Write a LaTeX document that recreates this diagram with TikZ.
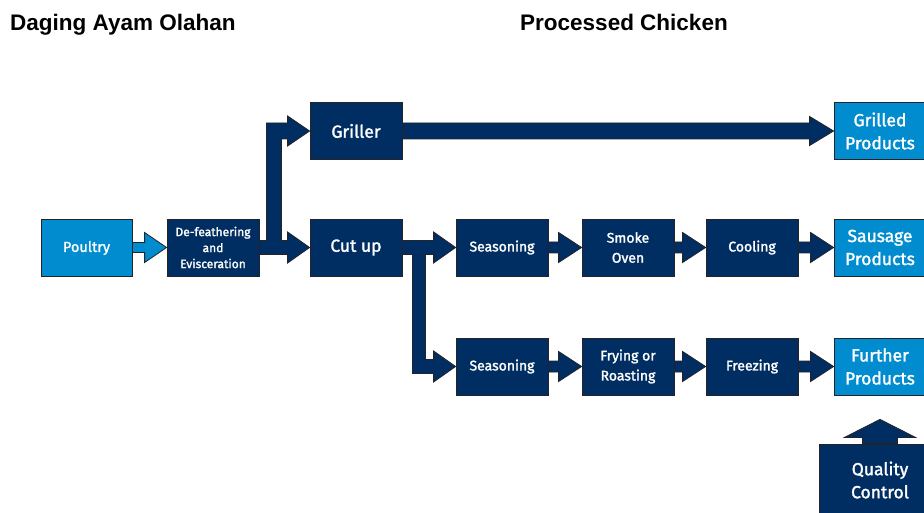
\documentclass[tikz,border=0pt]{standalone}
\usepackage{xcolor}
\usepackage{fontspec}
\setmainfont{Fira Sans}
\newfontfamily\boxfont{Fira Sans}[FakeBold=1.6]
\newfontfamily\headfont{Liberation Sans}
\usetikzlibrary{calc}
\definecolor{navyblue}{RGB}{0, 46, 98}
\definecolor{skyblue}{RGB}{0, 140, 206}
\definecolor{edgegray}{RGB}{35, 35, 40}

% block arrow: [fill] from, to, shaft half, head half, head length
\newcommand{\blockarrow}[6][navyblue]{%
  \filldraw[fill=#1, draw=edgegray, line width=0.8pt]
    ($(#2.east |- #3.west)+(0,-#4)$) -- ($(#3.west)+(-#6,-#4)$) -- ($(#3.west)+(-#6,-#5)$)
    -- (#3.west) -- ($(#3.west)+(-#6,#5)$) -- ($(#3.west)+(-#6,#4)$)
    -- ($(#2.east |- #3.west)+(0,#4)$) -- cycle;}

\begin{document}
\begin{tikzpicture}[
        x=1pt, y=-1pt,
        every node/.style={align=center, text=white},
        procbox/.style={draw=edgegray, line width=0.8pt, fill=navyblue, minimum width=92pt, minimum height=57pt, inner sep=1pt, font=\boxfont\fontsize{14}{20}\selectfont},
        prodbox/.style={procbox, fill=skyblue, font=\boxfont\fontsize{17.5}{23}\selectfont},
        headline/.style={anchor=base west, inner sep=0pt, text=black, font=\headfont\bfseries\fontsize{22.5}{24}\selectfont}
    ]
    \useasboundingbox (0,0) rectangle (924,513);
    \clip (0,0) rectangle (924,513);
    \fill[white] (0,0) rectangle (924,513);

    % Titles
    \node[headline] (titleid) at (10,31) {Daging Ayam Olahan};
    \node[headline] (titleen) at (520,31) {Processed Chicken};

    % Boxes (drawn later over the arrows)
    \path
        (86.5,248) node[prodbox, minimum width=91pt] (poultry) {}
        (213,247.5) node[procbox] (defeather) {}
        (356,131) node[procbox] (griller) {}
        (356,247.5) node[procbox] (cutup) {}
        (502,247.5) node[procbox] (seasa) {}
        (628,247.5) node[procbox] (smoke) {}
        (752,247.5) node[procbox] (cooling) {}
        (880,131) node[prodbox] (grilled) {}
        (880,247.5) node[prodbox] (sausage) {}
        (502,366.5) node[procbox] (seasb) {}
        (628,366.5) node[procbox] (frying) {}
        (752,366.5) node[procbox] (freezing) {}
        (880,366.5) node[prodbox] (further) {}
        (880,480) node[procbox, minimum width=122pt, minimum height=72pt] (qc) {};

    % Arrows
    \blockarrow[skyblue]{poultry}{defeather}{5}{15}{22}
    \blockarrow{griller}{grilled}{8}{14.5}{24}
    \blockarrow{seasa}{smoke}{5.5}{15}{23}
    \blockarrow{smoke}{cooling}{5.5}{15}{23}
    \blockarrow{cooling}{sausage}{5.5}{15}{23}
    \blockarrow{seasb}{frying}{5.5}{15}{23}
    \blockarrow{frying}{freezing}{5.5}{15}{23}
    \blockarrow{freezing}{further}{5.5}{15}{23}

    % branch after de-feathering
    \filldraw[fill=navyblue, draw=edgegray, line width=0.8pt]
        ($(defeather.east)+(0,-7)$) -- ($(defeather.east)+(7,-7)$) -- ($(defeather.east |- griller.west)+(7,-8)$)
        -- ($(griller.west)+(-22,-8)$) -- ($(griller.west)+(-22,-15)$) -- (griller.west)
        -- ($(griller.west)+(-22,15)$) -- ($(griller.west)+(-22,8)$) -- ($(defeather.east |- griller.west)+(22,8)$)
        -- ($(defeather.east)+(22,-7)$) -- ($(cutup.west)+(-22,-7)$) -- ($(cutup.west)+(-22,-15.5)$)
        -- (cutup.west) -- ($(cutup.west)+(-22,15.5)$) -- ($(cutup.west)+(-22,7)$)
        -- ($(defeather.east)+(0,7)$) -- cycle;

    % branch after cut up
    \filldraw[fill=navyblue, draw=edgegray, line width=0.8pt]
        ($(cutup.east)+(0,-7)$) -- ($(seasa.west)+(-22,-7)$) -- ($(seasa.west)+(-22,-15.5)$)
        -- (seasa.west) -- ($(seasa.west)+(-22,15.5)$) -- ($(seasa.west)+(-22,7)$)
        -- ($(cutup.east)+(23,7)$) -- ($(cutup.east |- seasb.west)+(23,-7)$) -- ($(seasb.west)+(-22,-7)$)
        -- ($(seasb.west)+(-22,-15.5)$) -- (seasb.west) -- ($(seasb.west)+(-22,15.5)$)
        -- ($(seasb.west)+(-22,7)$) -- ($(cutup.east |- seasb.west)+(10,7)$) -- ($(cutup.east)+(10,7)$)
        -- ($(cutup.east)+(0,7)$) -- cycle;

    % quality control arrow
    \coordinate (qctip) at ($(further.south)+(0,24)$);
    \filldraw[fill=navyblue, draw=edgegray, line width=0.8pt]
        ($(qc.north)+(-17.5,0)$) -- ($(qctip)+(-17.5,18)$) -- ($(qctip)+(-35.5,18)$) -- (qctip)
        -- ($(qctip)+(35.5,18)$) -- ($(qctip)+(17.5,18)$) -- ($(qc.north)+(17.5,0)$) -- cycle;

    % Box texts
    \node[prodbox, minimum width=91pt, font=\boxfont\fontsize{14.5}{20}\selectfont] at (poultry) {Poultry};
    \node[procbox, font=\boxfont\fontsize{12}{16}\selectfont] at (defeather) {De-feathering\\and\\Evisceration};
    \node[procbox, font=\boxfont\fontsize{17.5}{20}\selectfont] at (griller) {Griller};
    \node[procbox, font=\boxfont\fontsize{17.5}{20}\selectfont] at (cutup) {Cut up};
    \node[procbox] at (seasa) {Seasoning};
    \node[procbox] at (smoke) {Smoke\\Oven};
    \node[procbox] at (cooling) {Cooling};
    \node[prodbox] at (grilled) {Grilled\\Products};
    \node[prodbox] at (sausage) {Sausage\\Products};
    \node[procbox] at (seasb) {Seasoning};
    \node[procbox] at (frying) {Frying or\\Roasting};
    \node[procbox] at (freezing) {Freezing};
    \node[prodbox] at (further) {Further\\Products};
    \node[procbox, minimum width=122pt, minimum height=72pt, font=\boxfont\fontsize{17.5}{23}\selectfont] at (qc) {Quality\\Control};
\end{tikzpicture}
\end{document}
